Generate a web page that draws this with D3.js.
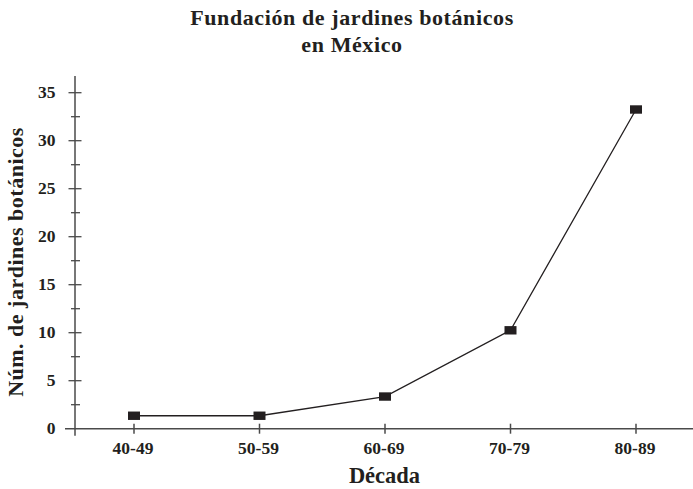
<!DOCTYPE html>
<html><head><meta charset="utf-8">
<script src="https://cdn.jsdelivr.net/npm/d3@7"></script>
<style>body{margin:0;background:#fff}svg{display:block}</style>
</head><body>
<script>
const categories = ["40-49","50-59","60-69","70-79","80-89"];
const values = [1.35, 1.35, 3.35, 10.25, 33.25];
const yTicks = [0,5,10,15,20,25,30,35];
const yMinorTicks = [2.5,7.5,12.5,17.5,22.5,27.5,32.5];
const titleLines = ["Fundación de jardines botánicos","en México"];
const xTitle = "Década";
const yTitle = "Núm. de jardines botánicos";

const W=693,H=489;
const font = "'Liberation Serif', 'DejaVu Serif', serif";
const axisColor = "#4a4a4a", ink="#231f20";
const svg = d3.select("body").append("svg").attr("width",W).attr("height",H);

const x = d3.scalePoint().domain(categories).range([134,636]);
const y = d3.scaleLinear().domain([0,35]).range([428.7,92.7]);
const axisX0 = 75, axisY0 = y(0);

// title
svg.append("g").selectAll("text").data(titleLines).join("text")
  .attr("x",352).attr("y",(d,i)=>25+i*27)
  .attr("text-anchor","middle").attr("font-family",font).attr("font-weight","bold")
  .attr("font-size",22).attr("letter-spacing",0.6).attr("fill",ink).text(d=>d);

// y axis line
svg.append("line").attr("x1",axisX0).attr("x2",axisX0).attr("y1",76).attr("y2",axisY0+7)
  .attr("stroke",axisColor).attr("stroke-width",1.5);
// x axis line
svg.append("line").attr("x1",65).attr("x2",693).attr("y1",axisY0).attr("y2",axisY0)
  .attr("stroke",axisColor).attr("stroke-width",1.5);

// y ticks
svg.append("g").selectAll("line").data(yTicks.filter(d=>d>0)).join("line")
  .attr("x1",axisX0-6.5).attr("x2",axisX0+6.5).attr("y1",d=>y(d)).attr("y2",d=>y(d))
  .attr("stroke",axisColor).attr("stroke-width",1.3);
svg.append("g").selectAll("line").data(yMinorTicks).join("line")
  .attr("x1",axisX0-4).attr("x2",axisX0+5).attr("y1",d=>y(d)).attr("y2",d=>y(d))
  .attr("stroke",axisColor).attr("stroke-width",1.3);
svg.append("g").selectAll("text").data(yTicks).join("text")
  .attr("x",55.5).attr("y",d=>y(d)+5.7).attr("text-anchor","end")
  .attr("font-family",font).attr("font-weight","bold").attr("font-size",17.5).attr("fill",ink)
  .text(d=>d);

// x ticks
svg.append("g").selectAll("line").data(categories).join("line")
  .attr("x1",d=>x(d)).attr("x2",d=>x(d)).attr("y1",axisY0-5).attr("y2",axisY0+5)
  .attr("stroke",axisColor).attr("stroke-width",1.5);
svg.append("g").selectAll("text").data(categories).join("text")
  .attr("x",d=>x(d)-1).attr("y",454).attr("text-anchor","middle")
  .attr("font-family",font).attr("font-weight","bold").attr("font-size",17.5).attr("fill",ink)
  .text(d=>d);

// axis titles
svg.append("text").attr("x",384.5).attr("y",483).attr("text-anchor","middle")
  .attr("font-family",font).attr("font-weight","bold").attr("font-size",22.5).attr("fill",ink)
  .text(xTitle);
svg.append("text").attr("transform","translate(23,262) rotate(-90)").attr("text-anchor","middle")
  .attr("font-family",font).attr("font-weight","bold").attr("font-size",22).attr("letter-spacing",0.5).attr("fill",ink)
  .text(yTitle);

// line
const data = categories.map((c,i)=>({c,v:values[i]}));
svg.append("path").datum(data)
  .attr("d",d3.line().x(d=>x(d.c)).y(d=>y(d.v)))
  .attr("fill","none").attr("stroke",ink).attr("stroke-width",1.3);
svg.append("g").selectAll("rect").data(data).join("rect")
  .attr("x",d=>x(d.c)-6).attr("y",d=>y(d.v)-4.2).attr("width",12).attr("height",8.4)
  .attr("fill",ink);
</script>
</body></html>
